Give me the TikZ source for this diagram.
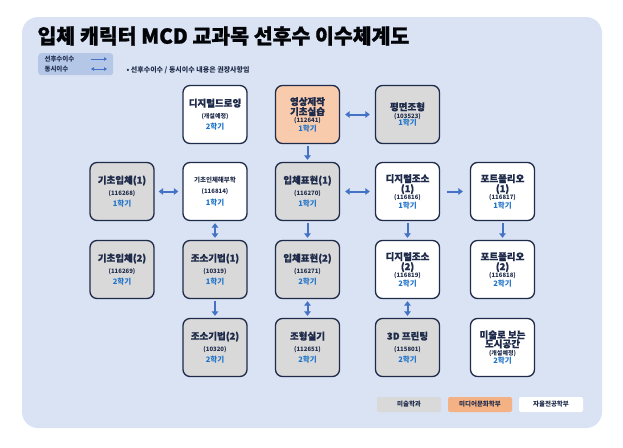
\documentclass[tikz,border=0pt]{standalone}
\usepackage{fontspec}
\setmainfont{Noto Sans CJK KR}
\newfontfamily\heavyfont{Noto Sans CJK KR}[BoldFeatures={FakeBold=1.2}]
\newfontfamily\thickfont{Noto Sans CJK KR}[BoldFeatures={FakeBold=0.6}]
\usetikzlibrary{arrows.meta}
\definecolor{bgblue}{HTML}{DAE3F3}
\definecolor{navy}{HTML}{1F2B4A}
\definecolor{edgeblue}{HTML}{4472C4}
\definecolor{semblue}{HTML}{1F73C8}
\definecolor{artgray}{HTML}{D9D9D9}
\definecolor{mediaorange}{HTML}{F8CBAD}
\definecolor{legorange}{HTML}{F4B183}
\definecolor{legblue}{HTML}{B4C7E7}

\newcommand{\cname}[1]{{\fontsize{9.5}{10}\thickfont\bfseries #1}}
\newcommand{\cnote}[1]{{\fontsize{6.5}{7}\selectfont\bfseries #1}}
\newcommand{\ccode}[1]{{\fontsize{6}{6}\selectfont\bfseries #1}}
\newcommand{\csem}[1]{{\fontsize{7.5}{8}\selectfont\bfseries\color{semblue}#1}}

\begin{document}
\lineskiplimit=-10pt
\begin{tikzpicture}[x=1pt, y=-1pt,
	course/.style={draw=navy, line width=1.3pt, rounded corners=7pt,
		minimum width=64pt, minimum height=58pt, inner sep=1pt,
		align=center, text=navy, fill=white,
		font=\fontsize{7}{11.5}\selectfont},
	tight/.style={font=\fontsize{7}{10}\selectfont},
	art/.style={fill=artgray},
	media/.style={fill=mediaorange},
	flow/.style={draw=edgeblue, line width=2pt,
		-{Triangle[length=4.5pt,width=6.5pt]}, shorten >=2pt, shorten <=2pt},
	both/.style={flow, {Triangle[length=4.5pt,width=6.5pt]}-{Triangle[length=4.5pt,width=6.5pt]}},
	gap/.style={shorten >=#1, shorten <=#1},
	key/.style={minimum width=64pt, minimum height=15pt, inner sep=0pt,
		rounded corners=2pt, text=navy, font=\fontsize{6.5}{7}\selectfont\bfseries}]
  \useasboundingbox (0,0) rectangle (623,447);
  \fill[bgblue, rounded corners=16pt] (22,17) rectangle (602,428);
  \node[anchor=west, text=black!90!navy, font=\fontsize{20.5}{24}\heavyfont\bfseries]
    (title) at (34,36) {입체 캐릭터 MCD 교과목 선후수 이수체계도};

  \node[fill=legblue, rounded corners=3pt, minimum width=75pt, minimum height=22pt,
    anchor=north west] (legend) at (38,53) {};
  \node[anchor=west, text=navy, font=\fontsize{6.5}{7}\selectfont\bfseries]
    (seqtxt) at (41,59) {선후수이수};
  \node[anchor=west, text=navy, font=\fontsize{6.5}{7}\selectfont\bfseries]
    (cotxt) at (41,69) {동시이수};
  \coordinate (seqa) at (91,59);  \coordinate (seqb) at (107,59);
  \coordinate (coa) at (91,69);   \coordinate (cob) at (107,69);
  \draw[edgeblue, line width=1pt, -{Triangle[length=3pt,width=3.5pt]}] (seqa) -- (seqb);
  \draw[edgeblue, line width=1pt, {Triangle[length=3pt,width=3.5pt]}-{Triangle[length=3pt,width=3.5pt]}] (coa) -- (cob);
  \node[anchor=west, text=navy, font=\fontsize{7}{8}\selectfont\bfseries]
    (remark) at (123,70) {• 선후수이수 / 동시이수 내용은 권장사항임};

  \node[course] (drawing) at (215,114.5) {\cname{디지털드로잉}\\\ccode{(개설예정)}\\\csem{2학기}};
  \node[course, media, tight] (video) at (307.5,114.5) {\cname{영상제작}\\\cname{기초실습}\\[-3pt]\ccode{(112641)}\\[-1pt]\csem{1학기}};
  \node[course, art] (plane) at (407.5,114.5) {\cname{평면조형}\\[-3.5pt]\ccode{(103523)}\\[-4pt]\csem{1학기}};

  \node[course, art] (solid1) at (122,191.5) {\cname{기초입체(1)}\\\ccode{(116268)}\\\csem{1학기}};
  \node[course] (anatomy) at (215,191.5) {\cnote{기초인체해부학}\\\ccode{(116814)}\\\csem{1학기}};
  \node[course, art] (expr1) at (307.5,191.5) {\cname{입체표현(1)}\\\ccode{(116270)}\\\csem{1학기}};
  \node[course, tight] (digi1) at (407.5,191.5) {\cname{디지털조소}\\\cname{(1)}\\[-3pt]\ccode{(116816)}\\[-1pt]\csem{1학기}};
  \node[course, tight] (folio1) at (502.5,191.5) {\cname{포트폴리오}\\\cname{(1)}\\[-3pt]\ccode{(116817)}\\[-1pt]\csem{1학기}};

  \node[course, art] (solid2) at (122,269.5) {\cname{기초입체(2)}\\\ccode{(116269)}\\\csem{2학기}};
  \node[course, art] (tech1) at (215,269.5) {\cname{조소기법(1)}\\\ccode{(10319)}\\\csem{1학기}};
  \node[course, art] (expr2) at (307.5,269.5) {\cname{입체표현(2)}\\\ccode{(116271)}\\\csem{2학기}};
  \node[course, tight] (digi2) at (407.5,269.5) {\cname{디지털조소}\\\cname{(2)}\\[-3pt]\ccode{(116819)}\\[-1pt]\csem{2학기}};
  \node[course, tight] (folio2) at (502.5,269.5) {\cname{포트폴리오}\\\cname{(2)}\\[-3pt]\ccode{(116818)}\\[-1pt]\csem{2학기}};

  \node[course, art] (tech2) at (215,347.5) {\cname{조소기법(2)}\\\ccode{(10320)}\\\csem{2학기}};
  \node[course, art] (form) at (307.5,347.5) {\cname{조형실기}\\\ccode{(112651)}\\\csem{2학기}};
  \node[course, art] (print) at (407.5,347.5) {\cname{3D 프린팅}\\\ccode{(115801)}\\\csem{2학기}};
  \node[course, tight] (city) at (502.5,347.5) {\cname{미술로 보는}\\[-1pt]\cname{도시공간}\\[-2pt]\ccode{(개설예정)}\\[-1.5pt]\csem{2학기}};

  \draw[both, gap=5pt] (video) -- (plane);
  \draw[flow] (video) -- (expr1);
  \draw[both, gap=4pt] (solid1) -- (anatomy);
  \draw[both] (anatomy) -- (tech1);
  \draw[both, gap=5pt] (expr1) -- (digi1);
  \draw[flow, gap=7pt] (digi1) -- (folio1);
  \draw[flow] (expr1) -- (expr2);
  \draw[flow] (digi1) -- (digi2);
  \draw[flow] (folio1) -- (folio2);
  \draw[flow] (tech1) -- (tech2);
  \draw[both] (expr2) -- (form);
  \draw[both] (digi2) -- (print);

  \node[key, fill=artgray] (artkey) at (409,404.5) {미술학과};
  \node[key, fill=legorange] (mediakey) at (480,404.5) {미디어문화학부};
  \node[key, fill=white] (freekey) at (551,404.5) {자율전공학부};
\end{tikzpicture}
\end{document}
